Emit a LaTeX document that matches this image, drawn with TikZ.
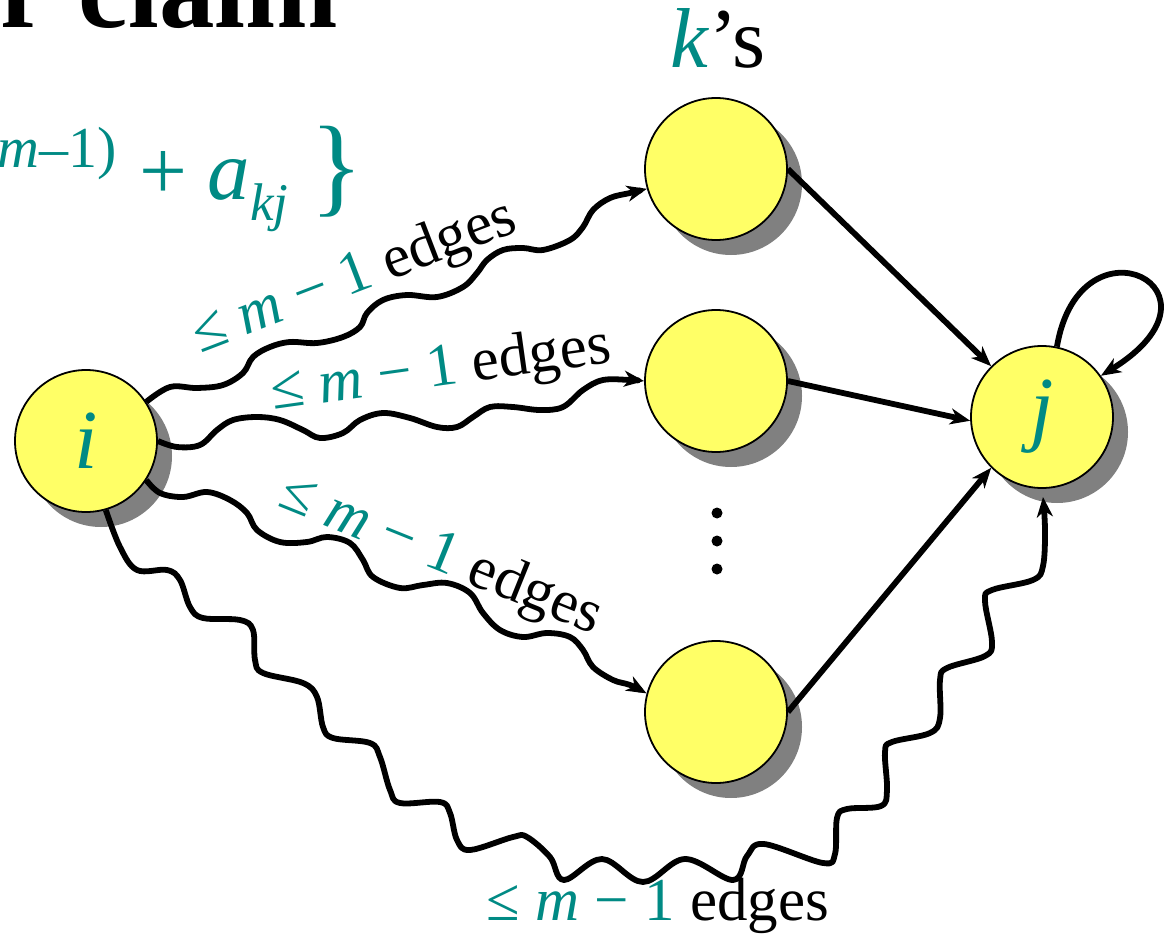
\documentclass[tikz,border=0pt]{standalone}
\usepackage{fontspec}
\IfFontExistsTF{LiberationSerif-Regular.ttf}{%
  \setmainfont{LiberationSerif}[Extension=.ttf,UprightFont=*-Regular,BoldFont=*-Bold,ItalicFont=*-Italic,BoldItalicFont=*-BoldItalic]}{%
  \setmainfont{Liberation Serif}}
\usetikzlibrary{arrows.meta}
\definecolor{tl}{RGB}{0,138,132}
\definecolor{ylw}{RGB}{255,255,102}
\definecolor{shd}{RGB}{128,128,128}
\begin{document}
\begin{tikzpicture}[x=1pt,y=-1pt,
  vtx/.style={circle, draw=black, line width=1.8pt, fill=ylw, minimum size=142pt, inner sep=0pt},
  shadowdisc/.style={fill=shd},
  tip/.style={-{Stealth[length=20pt,width=16pt,inset=6pt]}},
  wave/.style={line width=5.8pt, line join=round, tip},
  arr/.style={line width=5.8pt, tip},
  lbl/.style={font=\fontsize{61}{66}\selectfont, inner sep=0pt, anchor=base},
  dotnode/.style={circle, fill=black, minimum size=11pt, inner sep=0pt},
]
\clip (0,0) rectangle (1171,939);
\fill[white] (0,0) rectangle (1171,939);

% title and formula (cut off at the left and top)
\node[anchor=base east, inner sep=0pt, font=\bfseries\fontsize{111}{115}\selectfont] (title) at (38,28) {Proof of};
\node[anchor=base east, inner sep=0pt, font=\bfseries\fontsize{111}{115}\selectfont] (claim) at (338,28) {claim};
\node[anchor=base east, inner sep=0pt, text=tl, font=\fontsize{58}{64}\selectfont] (sup) at (117,168) {(\textit{m}–1)};
\node[anchor=base, inner sep=0pt, text=tl, font=\fontsize{85}{90}\selectfont] (plus) at (163,200) {+};
\node[anchor=base west, inner sep=0pt, text=tl, font=\fontsize{85}{90}\selectfont] (a) at (207,200) {\textit{a}};
\node[anchor=base west, inner sep=0pt, text=tl, font=\fontsize{53}{60}\selectfont] (kj) at (250,220) {\textit{kj}};
\node[inner sep=0pt, text=tl, font=\fontsize{110}{120}\selectfont] (br) at (337,172) {\}};

\node[anchor=base, inner sep=0pt, font=\fontsize{85}{90}\selectfont] (ks) at (718,68) {{\color{tl}\textit{k}}’s};

% shadows
\fill[shadowdisc] (101,456) circle[radius=71pt];
\fill[shadowdisc] (731,184) circle[radius=71pt];
\fill[shadowdisc] (731,396) circle[radius=71pt];
\fill[shadowdisc] (731,727) circle[radius=71pt];
\fill[shadowdisc] (1057,432) circle[radius=71pt];

% vertices
\node[vtx] (i) at (86,441) {\fontsize{84}{90}\selectfont\color{tl}\textit{i}};
\node[vtx] (k1) at (716,169) {};
\node[vtx] (k2) at (716,381) {};
\node[vtx] (k3) at (716,712) {};
\node[vtx] (j) at (1042,417) {\fontsize{84}{90}\selectfont\color{tl}\textit{j}};

\node[dotnode] (d1) at (717,513) {};
\node[dotnode] (d2) at (717,541) {};
\node[dotnode] (d3) at (717,569) {};

% wavy paths
\draw[wave] plot[smooth, tension=0.6] coordinates {(i.33) (170,387) (197,388) (223,385) (243,373) (253,357) (270,347) (290,342) (317,343) (343,337) (360,327) (367,313) (383,300) (407,295) (437,297) (463,287) (477,273) (487,260) (503,250) (523,248) (543,250) (570,240) (583,227) (593,210) (610,198) (630,193) (k1.196)};
\draw[wave] plot[smooth, tension=0.6] coordinates {(i.east) (177,447) (200,445) (217,430) (233,420) (257,417) (280,420) (303,430) (320,438) (343,433) (360,420) (383,413) (410,418) (437,427) (457,427) (473,417) (490,407) (513,407) (540,410) (563,407) (583,390) (603,380) (630,380) (k2.west)};
\draw[wave] plot[smooth, tension=0.6] coordinates {(i.-33) (160,493) (183,497) (207,492) (230,500) (247,513) (257,530) (280,542) (307,542) (327,537) (350,543) (363,560) (373,577) (400,588) (423,585) (447,583) (470,593) (483,613) (500,630) (523,637) (547,633) (570,637) (583,650) (593,667) (613,680) (630,685) (k3.165)};
\draw[wave] plot[smooth, tension=0.6] coordinates {(i.-74) (120,547) (137,570) (167,570) (180,580) (190,607) (203,618) (240,620) (253,630) (255,660) (263,673) (303,683) (317,697) (323,727) (333,738) (370,743) (380,757) (390,790) (400,803) (440,802) (450,813) (457,840) (470,850) (513,837) (527,837) (550,857) (564,880) (602,859) (643,882) (685,859) (733,880) (747,856) (764,844) (823,863) (835,854) (837,818) (847,809) (881,806) (887,790) (885,752) (892,742) (930,733) (940,718) (940,680) (947,668) (985,656) (992,642) (985,601) (992,590) (1033,580) (1043,566) (1045,530) (1043,497)};

% straight edges
\draw[arr] (k1.east) -- (j.135);
\draw[arr] (k2.east) -- (j.183);
\draw[arr] (k3.east) -- (j.225);
\draw[arr] (j.78) .. controls (1080,210) and (1240,290) .. (j.35);

% labels
\node[lbl, rotate=21] (l1) at (360,292) {{\color{tl}≤ \textit{m} − 1} edges};
\node[lbl, rotate=8] (l2) at (443,386) {{\color{tl}≤ \textit{m} − 1} edges};
\node[lbl, rotate=-22] (l3) at (435,570) {{\color{tl}≤ \textit{m} − 1} edges};
\node[lbl] (l4) at (658,920) {{\color{tl}≤ \textit{m} − 1} edges};
\end{tikzpicture}
\end{document}
